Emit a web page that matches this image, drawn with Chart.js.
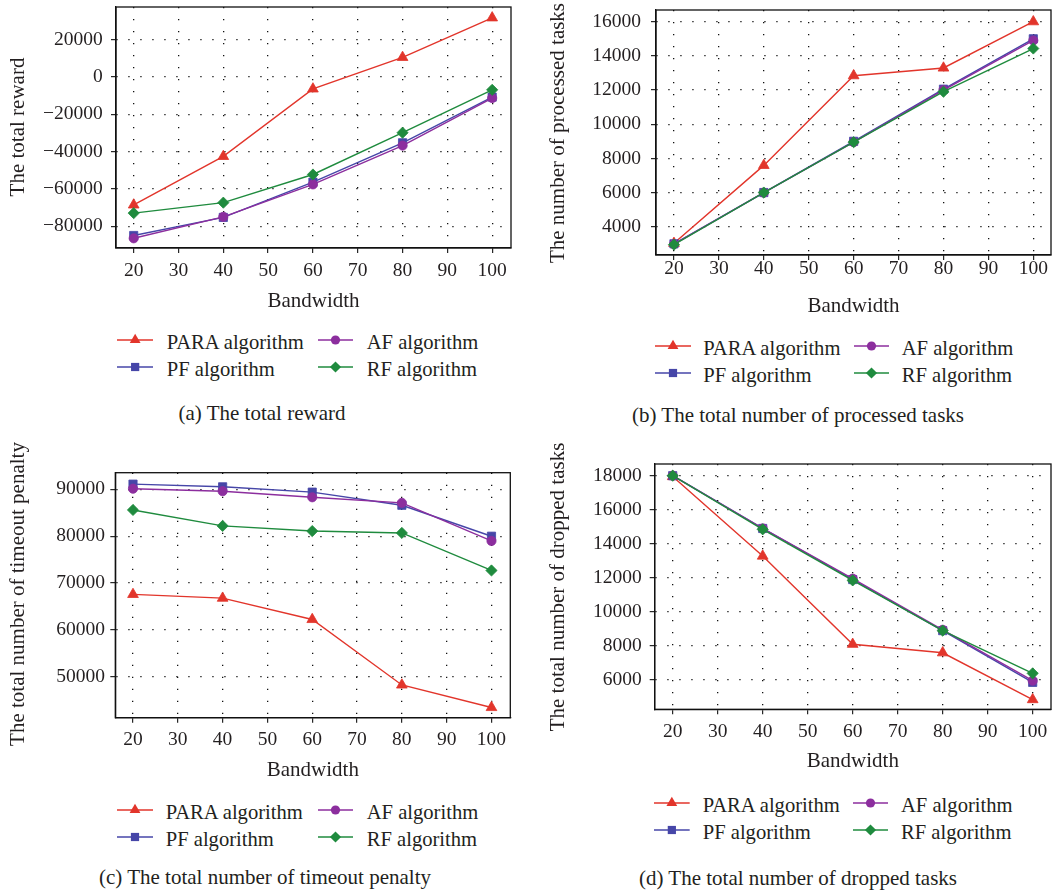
<!DOCTYPE html>
<html><head><meta charset="utf-8">
<script src="https://cdn.jsdelivr.net/npm/chart.js@4.4.1/dist/chart.umd.min.js"></script>
<style>
body{margin:0;background:#fff;}
#root{position:relative;width:1059px;height:894px;background:#fff;font-family:"Liberation Serif","DejaVu Serif",serif;color:#231f20;overflow:hidden;}
canvas{position:absolute;}
.ytitle{position:absolute;white-space:nowrap;font-size:21px;line-height:1;transform:translate(-50%,-50%) rotate(-90deg);}
.cap{position:absolute;white-space:nowrap;font-size:21px;line-height:1;transform:translate(-50%,-50%);}
.legtxt{position:absolute;white-space:nowrap;font-size:20.6px;line-height:1;transform:translateY(-50%);}
.legicon{position:absolute;transform:translateY(-50%);}
</style></head>
<body><div id="root">
<canvas id="cA" width="530" height="320" style="left:0;top:0"></canvas>
<canvas id="cB" width="529" height="325" style="left:530px;top:0"></canvas>
<canvas id="cC" width="530" height="350" style="left:0;top:440px"></canvas>
<canvas id="cD" width="529" height="350" style="left:530px;top:440px"></canvas>
</div>
<script>
// ---------- data ----------
const bandwidth = [20, 40, 60, 80, 100];
const xTicks = [20, 30, 40, 50, 60, 70, 80, 90, 100];
const seriesNames = ['PARA algorithm', 'PF algorithm', 'AF algorithm', 'RF algorithm'];

const rewardPARA = [-68600, -42600, -6400, 10500, 31700];
const rewardPF   = [-85000, -75300, -56400, -35300, -10800];
const rewardAF   = [-86500, -75000, -57600, -36800, -11300];
const rewardRF   = [-73000, -67400, -52300, -29900, -6900];
const rewardTicks = [-80000, -60000, -40000, -20000, 0, 20000];

const processedPARA = [3030, 7590, 12840, 13290, 16000];
const processedPF   = [3000, 6000, 9000, 12050, 15000];
const processedAF   = [2980, 5990, 8950, 12000, 14900];
const processedRF   = [2950, 6000, 8950, 11900, 14430];
const processedTicks = [4000, 6000, 8000, 10000, 12000, 14000, 16000];

const timeoutPARA = [67600, 66800, 62260, 48300, 43500];
const timeoutPF   = [91100, 90530, 89400, 86600, 80000];
const timeoutAF   = [90130, 89600, 88300, 87100, 79000];
const timeoutRF   = [85600, 82200, 81100, 80700, 72700];
const timeoutTicks = [50000, 60000, 70000, 80000, 90000];

const droppedPARA = [17950, 13280, 8100, 7600, 4850];
const droppedPF   = [18000, 14900, 11900, 8900, 5860];
const droppedAF   = [18000, 14900, 11950, 8950, 5960];
const droppedRF   = [18000, 14850, 11850, 8900, 6390];
const droppedTicks = [6000, 8000, 10000, 12000, 14000, 16000, 18000];

// ---------- styles ----------
const colors = {PARA:'#e2352b', PF:'#4646a8', AF:'#8c2e9e', RF:'#1f8b3e'};
const styles = {PARA:['triangle',6.2], PF:['rect',5.8], AF:['circle',4.6], RF:['rectRot',5.6]};
const FONT = '"Liberation Serif", "DejaVu Serif", serif';

const boxPlugin = {
  id:'box',
  beforeDatasetsDraw(chart){
    const {ctx, chartArea:a} = chart;
    ctx.save();
    ctx.strokeStyle = '#111';
    ctx.lineWidth = 1.3;
    ctx.strokeRect(a.left, a.top, a.right - a.left, a.bottom - a.top);
    ctx.restore();
  }
};

function fmt(v){ return v < 0 ? '\u2212' + Math.abs(v) : String(v); }
function noPad(sc){ sc.paddingTop = 0; sc.paddingBottom = 0; sc.paddingLeft = 0; sc.paddingRight = 0; }

function makeChart(id, s, yTicks, c){
  const keys = ['RF','AF','PF','PARA'];
  const vals = {PARA:s[0], PF:s[1], AF:s[2], RF:s[3]};
  const datasets = keys.map(k => ({
    label: k,
    data: bandwidth.map((x,i) => ({x, y: vals[k][i]})),
    borderColor: colors[k],
    backgroundColor: colors[k],
    borderWidth: 1.4,
    pointStyle: styles[k][0],
    pointRadius: styles[k][1],
    pointBorderWidth: 0.8,
    pointBorderColor: colors[k],
    pointBackgroundColor: colors[k],
    tension: 0,
    clip: false
  }));
  const grid = {color:'#111', lineWidth:1.3, drawTicks:true, tickLength:5, tickColor:'#111', tickWidth:1.1, tickBorderDash:[]};
  const border = {display:true, color:'#111', width:1.3, dash:[1.3,10.7]};
  return new Chart(document.getElementById(id), {
    type:'line',
    data:{datasets},
    plugins:[boxPlugin],
    options:{
      responsive:false, animation:false, devicePixelRatio:1,
      layout:{padding:{left:0, top:c.padTop, right:c.padRight, bottom:0}},
      plugins:{legend:{display:false}, tooltip:{enabled:false}},
      scales:{
        x:{type:'linear', min:c.xMin, max:c.xMax,
          afterBuildTicks: sc => { sc.ticks = xTicks.map(v => ({value:v})); },
          afterFit: sc => { sc.height = c.xHeight; noPad(sc); },
          ticks:{font:{family:FONT, size:19.5}, color:'#231f20', padding:c.xPad, maxRotation:0, autoSkip:false,
                 callback: v => String(v)},
          grid, border,
          title:{display:true, text:'Bandwidth', font:{family:FONT, size:21}, color:'#231f20',
                 padding:{top:0, bottom:c.tPad}}
        },
        y:{type:'linear', min:c.yMin, max:c.yMax,
          afterBuildTicks: sc => { sc.ticks = yTicks.map(v => ({value:v})); },
          afterFit: sc => { sc.width = c.yWidth; noPad(sc); },
          ticks:{font:{family:FONT, size:19.5}, color:'#231f20', padding:c.yPad, autoSkip:false, callback: v => fmt(v)},
          grid, border
        }
      }
    }
  });
}

makeChart('cA', [rewardPARA, rewardPF, rewardAF, rewardRF], rewardTicks,
  {xMin:16.05, xMax:104.2, yMin:-91700, yMax:37500, padTop:4, padRight:19, yWidth:116, xHeight:72, xPad:6, yPad:8.3, tPad:6.4});
makeChart('cB', [processedPARA, processedPF, processedAF, processedRF], processedTicks,
  {xMin:16.0, xMax:103.94, yMin:2345, yMax:16684, padTop:10, padRight:8, yWidth:126, xHeight:70, xPad:-3, yPad:10, tPad:5.7});
makeChart('cC', [timeoutPARA, timeoutPF, timeoutAF, timeoutRF], timeoutTicks,
  {xMin:16.05, xMax:104.2, yMin:41320, yMax:93540, padTop:32.7, padRight:19.7, yWidth:115.3, xHeight:72.3, xPad:5.2, yPad:5.3, tPad:7.4});
makeChart('cD', [droppedPARA, droppedPF, droppedAF, droppedRF], droppedTicks,
  {xMin:16.0, xMax:104.07, yMin:4279, yMax:18687, padTop:24, padRight:8, yWidth:124.7, xHeight:80.7, xPad:6, yPad:8, tPad:15.7});

// ---------- titles, legends, captions ----------
const root = document.getElementById('root');
function addDiv(cls, text, x, y){
  const d = document.createElement('div');
  d.className = cls; d.textContent = text;
  d.style.left = x + 'px'; d.style.top = y + 'px';
  root.appendChild(d);
}
addDiv('ytitle', 'The total reward', 17, 127);
addDiv('ytitle', 'The number of processed tasks', 557, 132.5);
addDiv('ytitle', 'The total number of timeout penalty', 17, 594);
addDiv('ytitle', 'The total number of dropped tasks', 557, 587);

addDiv('cap', '(a) The total reward', 262, 413);
addDiv('cap', '(b) The total number of processed tasks', 798, 415);
addDiv('cap', '(c) The total number of timeout penalty', 265, 877);
addDiv('cap', '(d) The total number of dropped tasks', 798, 878);

function markerSVG(k, cx, cy){
  const col = colors[k];
  if (k === 'PARA') return `<polygon points="${cx},${cy-6.2} ${cx-5.4},${cy+3.1} ${cx+5.4},${cy+3.1}" fill="${col}"/>`;
  if (k === 'PF') return `<rect x="${cx-4.1}" y="${cy-4.1}" width="8.2" height="8.2" fill="${col}"/>`;
  if (k === 'AF') return `<circle cx="${cx}" cy="${cy}" r="4.6" fill="${col}"/>`;
  return `<polygon points="${cx},${cy-5.6} ${cx+5.6},${cy} ${cx},${cy+5.6} ${cx-5.6},${cy}" fill="${col}"/>`;
}
function addLegend(rows, cols){
  // column-major order: PARA, PF in column 1; AF, RF in column 2
  const keys = [['PARA','PF'],['AF','RF']];
  cols.forEach((col, ci) => {
    rows.forEach((ry, ri) => {
      const k = keys[ci][ri];
      const w = col.i1 - col.i0;
      const ic = document.createElement('div');
      ic.className = 'legicon';
      ic.style.left = col.i0 + 'px'; ic.style.top = ry + 'px';
      ic.innerHTML = `<svg width="${w}" height="16" viewBox="0 0 ${w} 16"><line x1="0" y1="8" x2="${w}" y2="8" stroke="${colors[k]}" stroke-width="1.4"/>${markerSVG(k, w/2, 8)}</svg>`;
      root.appendChild(ic);
      addDiv('legtxt', seriesNames[['PARA','PF','AF','RF'].indexOf(k)], col.t, ry);
    });
  });
}
addLegend([341.7, 369], [{i0:116.7, i1:153, t:166.7}, {i0:318, i1:353, t:366.7}]);
addLegend([348.3, 375], [{i0:655, i1:691, t:703.3}, {i0:854, i1:889, t:901.7}]);
addLegend([811.7, 839.3], [{i0:116.7, i1:152.7, t:165.7}, {i0:318, i1:353, t:366.7}]);
addLegend([805, 831.7], [{i0:654.3, i1:690, t:702.7}, {i0:853.3, i1:888.3, t:901}]);
</script>
</body></html>
